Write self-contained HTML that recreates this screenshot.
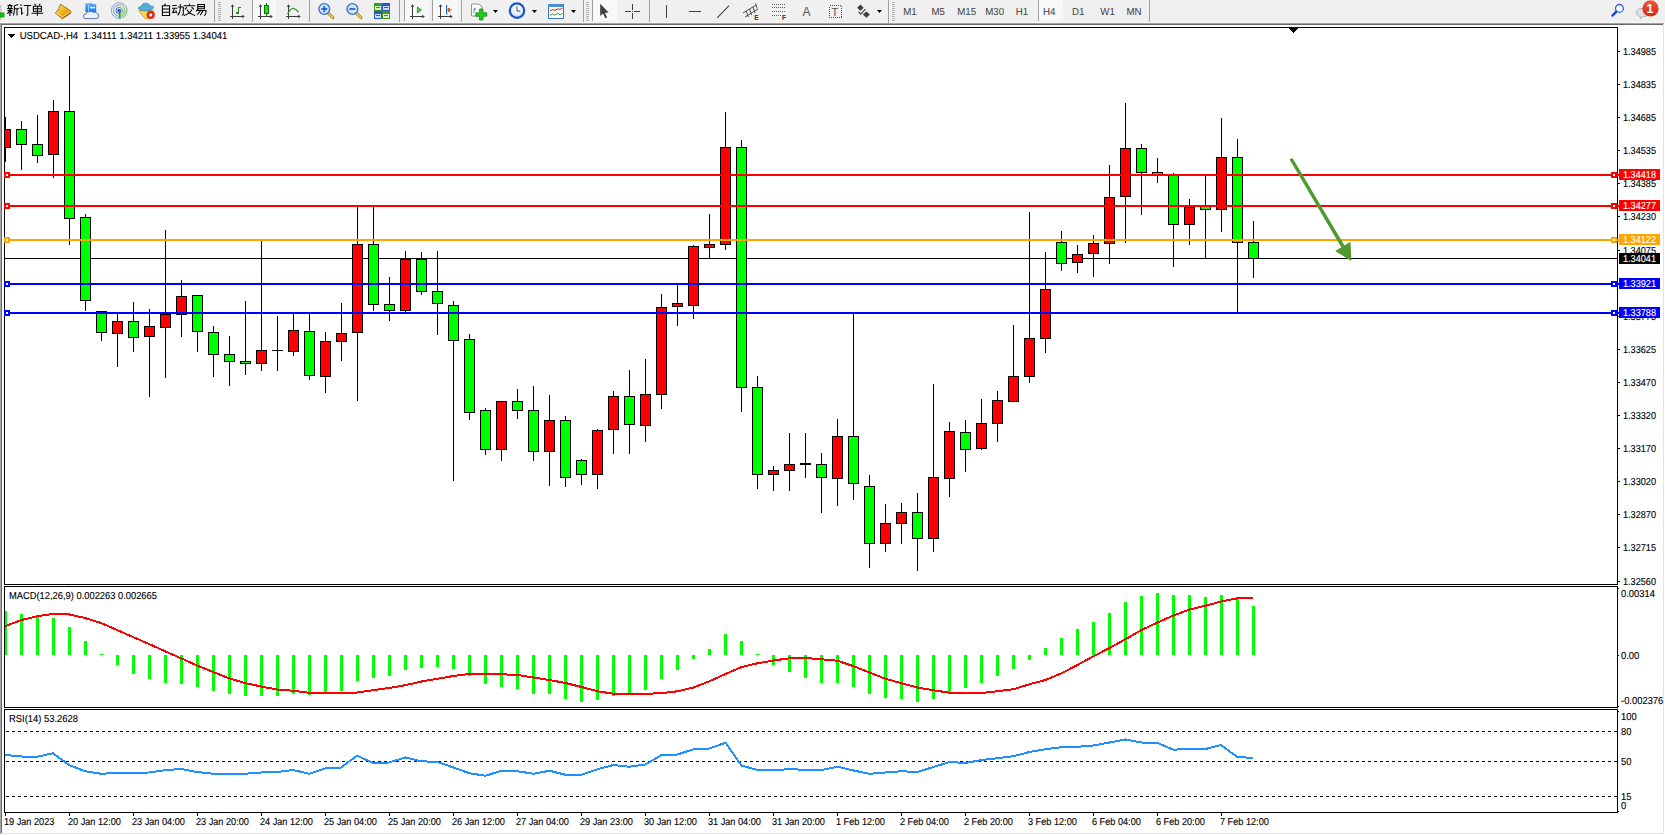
<!DOCTYPE html>
<html><head><meta charset="utf-8"><title>USDCAD-,H4</title>
<style>html,body{margin:0;padding:0;background:#fff;overflow:hidden}svg{display:block;font-family:"Liberation Sans",sans-serif}</style>
</head><body>
<svg width="1665" height="835" viewBox="0 0 1665 835">
<defs><clipPath id="cm"><rect x="5" y="28" width="1612" height="556"/></clipPath><clipPath id="cd"><rect x="5" y="587" width="1612" height="120"/></clipPath><clipPath id="cr"><rect x="5" y="710" width="1612" height="102"/></clipPath></defs>
<g shape-rendering="crispEdges">
<rect x="0" y="0" width="1665" height="835" fill="#fff" />
<rect x="0" y="0" width="1665" height="23" fill="#f0f0f0" />
<rect x="0" y="22" width="1665" height="1" fill="#f8f8f8" />
<rect x="0" y="23" width="1664" height="1" fill="#a0a0a0" />
<rect x="1" y="24" width="1663" height="1" fill="#696969" />
<rect x="0" y="24" width="1" height="810" fill="#a8a8a8" />
<rect x="1" y="24" width="1" height="809" fill="#696969" />
<rect x="1663" y="24" width="1" height="810" fill="#e3e3e3" />
<rect x="1" y="833" width="1663" height="1" fill="#e3e3e3" />
<rect x="4" y="27" width="1614" height="1" fill="#000" />
<rect x="4" y="584" width="1614" height="1" fill="#000" />
<rect x="4" y="27" width="1" height="558" fill="#000" />
<rect x="1617" y="27" width="1" height="558" fill="#000" />
<rect x="4" y="586" width="1614" height="1" fill="#000" />
<rect x="4" y="707" width="1614" height="1" fill="#000" />
<rect x="4" y="586" width="1" height="122" fill="#000" />
<rect x="1617" y="586" width="1" height="122" fill="#000" />
<rect x="4" y="709" width="1614" height="1" fill="#000" />
<rect x="4" y="812" width="1614" height="1" fill="#000" />
<rect x="4" y="709" width="1" height="104" fill="#000" />
<rect x="1617" y="709" width="1" height="104" fill="#000" />
</g>
<g id="toolbar">
<rect x="0" y="5" width="1.5" height="15" fill="#c8c8c8"/>
<rect x="0" y="13" width="4" height="4" fill="#00dc00" stroke="#0a8a0a" stroke-width="0.8"/>
<path transform="translate(7.0,3.8)" d="M2.6,0.2 L3.2,1.3 M0.5,1.8 H5.5 M1.4,2.8 L1.9,4.2 M4.6,2.6 L4,4.2 M0.2,4.8 H5.8 M0.6,6.8 H5.4 M3,4.8 V11.5 L2.2,11 M2.7,7.2 L0.4,10 M3.6,7.8 L5.4,9.6 M11.2,0.6 L7.4,2 V6.5 Q7.4,9.5 6.2,11.6 M7.4,5 H12 M10,5 V11.8" fill="none" stroke="#000" stroke-width="1.05" stroke-linecap="butt"/>
<path transform="translate(19.2,3.8)" d="M1.2,0.6 L2.4,1.8 M0.2,4.2 H2.4 V10.2 L3.8,8.8 M4.6,1.6 H12 M8.6,1.6 V11 Q8.6,11.6 7,11.2" fill="none" stroke="#000" stroke-width="1.05" stroke-linecap="butt"/>
<path transform="translate(31.4,3.8)" d="M3.2,0 L4.2,1.6 M8.8,0 L7.8,1.6 M2,2.4 H10 V7.4 H2 Z M2,4.9 H10 M0.2,9.4 H11.8 M6,2.4 V12" fill="none" stroke="#000" stroke-width="1.05" stroke-linecap="butt"/>
<path transform="translate(160.0,3.8)" d="M5.5,0 L4.5,1.6 M2.4,2 H9.6 V11.6 H2.4 Z M2.4,5.2 H9.6 M2.4,8.4 H9.6" fill="none" stroke="#000" stroke-width="1.05" stroke-linecap="butt"/>
<path transform="translate(171.7,3.8)" d="M0.6,1.6 H5 M0.2,4.4 H5.6 M2.8,4.4 L1,8.8 L5,8.2 M4,6.6 L5.4,9.6 M6.2,3.2 H11.6 V9.8 Q11.6,11.4 10,11.2 M8.6,0.2 V5 Q8.4,9 6,11.6" fill="none" stroke="#000" stroke-width="1.05" stroke-linecap="butt"/>
<path transform="translate(183.4,3.8)" d="M6,0 V1.6 M0.4,2 H11.6 M3.6,3.4 L1.4,5.6 M8.2,3.4 L10.6,5.6 M8.6,5.6 Q6,10 0.4,11.8 M3.4,5.6 Q6,10 11.8,11.8" fill="none" stroke="#000" stroke-width="1.05" stroke-linecap="butt"/>
<path transform="translate(195.1,3.8)" d="M2.6,0.6 H9.4 V5 H2.6 Z M2.6,2.8 H9.4 M3.2,5 L1,7.6 M2.4,6.6 H11 Q11,11 9,11.6 M5.6,6.6 L2.2,11 M8.2,6.6 L5.2,11.4" fill="none" stroke="#000" stroke-width="1.05" stroke-linecap="butt"/>
<defs><linearGradient id="gold" x1="0" y1="0" x2="1" y2="1"><stop offset="0" stop-color="#ffe27a"/><stop offset="0.5" stop-color="#f0b41e"/><stop offset="1" stop-color="#b8740e"/></linearGradient><linearGradient id="blu" x1="0" y1="0" x2="0" y2="1"><stop offset="0" stop-color="#4fb0ff"/><stop offset="1" stop-color="#1478e6"/></linearGradient><radialGradient id="clk" cx="0.5" cy="0.4" r="0.6"><stop offset="0" stop-color="#ffffff"/><stop offset="0.7" stop-color="#dfeaf8"/><stop offset="1" stop-color="#9fb8dc"/></radialGradient><linearGradient id="redb" x1="0" y1="0" x2="0" y2="1"><stop offset="0" stop-color="#f0563a"/><stop offset="1" stop-color="#d42810"/></linearGradient></defs>
<path d="M60.6,4.2 L70.8,11 L70.8,13.2 L62.4,18.8 L55.2,13 Q57.6,11.4 58.8,8.6 Q59.6,6 60.6,4.2 Z" fill="url(#gold)" stroke="#a8690f" stroke-width="0.9"/>
<path d="M55.8,12.6 L62.6,16.8 L70.6,11.2" stroke="#fbe9a0" stroke-width="0.8" fill="none"/>
<path d="M62.5,18.2 L70.6,12.8" stroke="#9a5f0c" stroke-width="0.7" fill="none"/>
<path d="M85.4,3.6 L91,3.2 L96.2,4.6 L96.2,12 L85.4,12 Z" fill="url(#blu)"/>
<path d="M88.6,4.6 L88.6,12" stroke="#c8e6ff" stroke-width="0.8"/>
<rect x="90" y="6.8" width="5" height="1.6" fill="#e8f4ff"/>
<path d="M86,18.6 Q83.2,18.6 83.3,16.2 Q83.4,14 86,14 Q86.6,11.2 89.6,11.6 Q91.4,10.6 93.2,12.4 Q95,11.6 96.6,13 Q99,13.6 98.8,16.2 Q98.6,18.6 96,18.6 Z" fill="#eef2fa" stroke="#4a6aa8" stroke-width="0.9"/>
<g fill="none" stroke-width="1"><path d="M119.2,2.8 A7.8,7.8 0 0 0 119.2,18.4" stroke="#5c82dc" opacity="0.75"/><path d="M119.2,5 A5.6,5.6 0 0 0 119.2,16.2" stroke="#5c82dc" opacity="0.85"/><path d="M119.2,7.4 A3.2,3.2 0 0 0 119.2,13.8" stroke="#3c66d0"/><path d="M119.2,2.8 A7.8,7.8 0 0 1 122,17.9" stroke="#5fa860" opacity="0.85"/><path d="M119.2,5 A5.6,5.6 0 0 1 121.5,15.7" stroke="#6aae6a" opacity="0.85"/><path d="M119.2,7.4 A3.2,3.2 0 0 1 120.8,13.4" stroke="#5fa860"/></g>
<path d="M119.8,11 A7,7 0 0 1 126.6,10.6 A7.6,7.6 0 0 1 120,18.4 Z" fill="#8cc48c" opacity="0.45"/>
<circle cx="119.2" cy="10.6" r="1.9" fill="#2a5ad2"/>
<rect x="119" y="11" width="1.6" height="7.8" fill="#20a828"/>
<path d="M138.6,10.4 L153.4,10.4 L147.6,18.8 L145,18.8 Z" fill="#f6d84a" stroke="#c8981a" stroke-width="0.7"/>
<path d="M138.4,8.6 Q138,6.8 141.4,6.4 Q142,3 146,3.2 Q149.4,3.4 150,6 Q154,5.6 153.6,7.6 Q152,10.6 146,10.8 Q140,10.8 138.4,8.6 Z" fill="#56aee0" stroke="#2c7fb4" stroke-width="0.7"/>
<circle cx="150.7" cy="14.9" r="4.1" fill="#e02c10"/>
<rect x="149.4" y="13.6" width="2.7" height="2.7" fill="#fff"/>
<rect x="214" y="0" width="1" height="22" fill="#a0a0a0" shape-rendering="crispEdges"/>
<rect x="218" y="2" width="3" height="1" fill="#b4b4b4" shape-rendering="crispEdges"/>
<rect x="218" y="4" width="3" height="1" fill="#b4b4b4" shape-rendering="crispEdges"/>
<rect x="218" y="6" width="3" height="1" fill="#b4b4b4" shape-rendering="crispEdges"/>
<rect x="218" y="8" width="3" height="1" fill="#b4b4b4" shape-rendering="crispEdges"/>
<rect x="218" y="10" width="3" height="1" fill="#b4b4b4" shape-rendering="crispEdges"/>
<rect x="218" y="12" width="3" height="1" fill="#b4b4b4" shape-rendering="crispEdges"/>
<rect x="218" y="14" width="3" height="1" fill="#b4b4b4" shape-rendering="crispEdges"/>
<rect x="218" y="16" width="3" height="1" fill="#b4b4b4" shape-rendering="crispEdges"/>
<rect x="218" y="18" width="3" height="1" fill="#b4b4b4" shape-rendering="crispEdges"/>
<rect x="218" y="20" width="3" height="1" fill="#b4b4b4" shape-rendering="crispEdges"/>
<g stroke="#3c3c3c" stroke-width="1" fill="none" shape-rendering="crispEdges"><path d="M232.5,5 V19 M230,16.5 H244"/></g>
<path d="M232.5,4.2 l-1.8,2.6 h3.6 z M244.8,16.5 l-2.6,-1.8 v3.6 z" fill="#3c3c3c"/>
<g stroke="#1e8a1e" stroke-width="1.3" fill="none" shape-rendering="crispEdges"><path d="M238.6,6.5 V14 M238.6,7.5 H241 M236.4,13 H238.6"/></g>
<rect x="252" y="0" width="1" height="22" fill="#a0a0a0" shape-rendering="crispEdges"/>
<rect x="252" y="0" width="24" height="21" fill="#f8f8f8" shape-rendering="crispEdges"/>
<rect x="252" y="0" width="1" height="21" fill="#a0a0a0" shape-rendering="crispEdges"/>
<g stroke="#3c3c3c" stroke-width="1" fill="none" shape-rendering="crispEdges"><path d="M260.5,5 V19 M258,16.5 H272"/></g>
<path d="M260.5,4.2 l-1.8,2.6 h3.6 z M272.8,16.5 l-2.6,-1.8 v3.6 z" fill="#3c3c3c"/>
<g shape-rendering="crispEdges"><rect x="266" y="3" width="1" height="13" fill="#0a7a0a"/><rect x="264" y="5" width="5" height="9" fill="#0a7a0a"/><rect x="265" y="6" width="3" height="7" fill="#22dd22"/></g>
<g stroke="#3c3c3c" stroke-width="1" fill="none" shape-rendering="crispEdges"><path d="M288.5,5 V19 M286,16.5 H300"/></g>
<path d="M288.5,4.2 l-1.8,2.6 h3.6 z M300.8,16.5 l-2.6,-1.8 v3.6 z" fill="#3c3c3c"/>
<path d="M287.5,14 Q291,7.6 293.6,8.4 Q296,9.4 298.6,12" stroke="#2a9a2a" stroke-width="1.2" fill="none"/>
<rect x="309" y="0" width="1" height="22" fill="#a0a0a0" shape-rendering="crispEdges"/>
<path d="M327.90000000000003,12.6 L332.90000000000003,17.6" stroke="#b8860b" stroke-width="3" stroke-linecap="round"/>
<path d="M328.1,12.8 L332.7,17.4" stroke="#f0d060" stroke-width="1.4" stroke-linecap="round"/>
<circle cx="324.3" cy="9" r="5.4" fill="#cfe6fa" stroke="#3a70d8" stroke-width="1.4"/>
<path d="M321.3,9 h6" stroke="#2a60c8" stroke-width="1.8"/>
<path d="M324.3,6 v6" stroke="#2a60c8" stroke-width="1.8"/>
<path d="M356.0,12.6 L361.0,17.6" stroke="#b8860b" stroke-width="3" stroke-linecap="round"/>
<path d="M356.2,12.8 L360.79999999999995,17.4" stroke="#f0d060" stroke-width="1.4" stroke-linecap="round"/>
<circle cx="352.4" cy="9" r="5.4" fill="#cfe6fa" stroke="#3a70d8" stroke-width="1.4"/>
<path d="M349.4,9 h6" stroke="#2a60c8" stroke-width="1.8"/>
<g shape-rendering="crispEdges"><rect x="374" y="3" width="8" height="8" fill="#3c9a1c"/><rect x="382" y="3" width="8" height="8" fill="#2858c8"/><rect x="374" y="11" width="8" height="8" fill="#2858c8"/><rect x="382" y="11" width="8" height="8" fill="#3c9a1c"/><rect x="375" y="6" width="6" height="4" fill="#d8f0c8"/><rect x="383" y="6" width="6" height="4" fill="#d0dcf8"/><rect x="375" y="14" width="6" height="4" fill="#d0dcf8"/><rect x="383" y="14" width="6" height="4" fill="#d8f0c8"/><rect x="376" y="7" width="4" height="1" fill="#3c9a1c"/><rect x="384" y="7" width="4" height="1" fill="#2858c8"/><rect x="376" y="15" width="4" height="1" fill="#2858c8"/><rect x="384" y="15" width="4" height="1" fill="#3c9a1c"/></g>
<rect x="399" y="0" width="1" height="22" fill="#a0a0a0" shape-rendering="crispEdges"/>
<rect x="404" y="0" width="25" height="21" fill="#f8f8f8" shape-rendering="crispEdges"/>
<rect x="404" y="0" width="1" height="21" fill="#a0a0a0" shape-rendering="crispEdges"/>
<g stroke="#3c3c3c" stroke-width="1" fill="none" shape-rendering="crispEdges"><path d="M412.5,5 V19 M410,16.5 H424"/></g>
<path d="M412.5,4.2 l-1.8,2.6 h3.6 z M424.8,16.5 l-2.6,-1.8 v3.6 z" fill="#3c3c3c"/>
<path d="M417.4,7 L421.4,10 L417.4,13 Z" fill="#4cd04c" stroke="#1e8a1e" stroke-width="0.8"/>
<rect x="432" y="0" width="25" height="21" fill="#f8f8f8" shape-rendering="crispEdges"/>
<rect x="432" y="0" width="1" height="21" fill="#a0a0a0" shape-rendering="crispEdges"/>
<g stroke="#3c3c3c" stroke-width="1" fill="none" shape-rendering="crispEdges"><path d="M440.5,5 V19 M438,16.5 H452"/></g>
<path d="M440.5,4.2 l-1.8,2.6 h3.6 z M452.8,16.5 l-2.6,-1.8 v3.6 z" fill="#3c3c3c"/>
<rect x="446" y="5" width="1.2" height="9.5" fill="#2868c0"/>
<path d="M447.6,10 L451.8,10 M447.6,10 l2.2,-2 M447.6,10 l2.2,2" stroke="#d04010" stroke-width="1.1" fill="none"/>
<rect x="461" y="0" width="1" height="22" fill="#a0a0a0" shape-rendering="crispEdges"/>
<path d="M471.5,4 H479 L482,7 V16 H471.5 Z" fill="#fafafa" stroke="#8a8a8a" stroke-width="0.9"/>
<text x="473" y="12.6" font-size="7.5" fill="#555" font-style="italic">f</text>
<path d="M479.6,9 h3.4 v3.8 h3.8 v3.4 h-3.8 v3.8 h-3.4 v-3.8 h-3.8 v-3.4 h3.8 z" fill="#22c822" stroke="#0f8a0f" stroke-width="0.8"/>
<path d="M493,10 h5 l-2.5,3 z" fill="#000"/>
<circle cx="517" cy="10.6" r="7.2" fill="url(#clk)" stroke="#1a56cc" stroke-width="2.2"/>
<path d="M517,6.4 V11 H520.4" stroke="#445" stroke-width="1" fill="none"/>
<path d="M532,10 h5 l-2.5,3 z" fill="#000"/>
<g shape-rendering="crispEdges"><rect x="548" y="4" width="15" height="14" fill="#fdfdfd" stroke="#3a76cc" stroke-width="1"/><rect x="548" y="4" width="15" height="3" fill="#4a8ee0"/></g>
<path d="M550,10.6 L553,9.6 L555,10.2 L558,8.8 L560,9.4 L562.4,8.2" stroke="#c03018" stroke-width="1" fill="none"/>
<path d="M550,15.4 L552.6,14 L554.6,15.2 L557.6,13.2 L560,14.6 L562.4,13.4" stroke="#2a9a2a" stroke-width="1" fill="none"/>
<path d="M571,10 h5 l-2.5,3 z" fill="#000"/>
<rect x="583" y="0" width="1" height="22" fill="#a0a0a0" shape-rendering="crispEdges"/>
<rect x="586" y="2" width="3" height="1" fill="#b4b4b4" shape-rendering="crispEdges"/>
<rect x="586" y="4" width="3" height="1" fill="#b4b4b4" shape-rendering="crispEdges"/>
<rect x="586" y="6" width="3" height="1" fill="#b4b4b4" shape-rendering="crispEdges"/>
<rect x="586" y="8" width="3" height="1" fill="#b4b4b4" shape-rendering="crispEdges"/>
<rect x="586" y="10" width="3" height="1" fill="#b4b4b4" shape-rendering="crispEdges"/>
<rect x="586" y="12" width="3" height="1" fill="#b4b4b4" shape-rendering="crispEdges"/>
<rect x="586" y="14" width="3" height="1" fill="#b4b4b4" shape-rendering="crispEdges"/>
<rect x="586" y="16" width="3" height="1" fill="#b4b4b4" shape-rendering="crispEdges"/>
<rect x="586" y="18" width="3" height="1" fill="#b4b4b4" shape-rendering="crispEdges"/>
<rect x="586" y="20" width="3" height="1" fill="#b4b4b4" shape-rendering="crispEdges"/>
<rect x="592" y="0" width="25" height="21" fill="#f8f8f8" shape-rendering="crispEdges"/>
<rect x="592" y="0" width="1" height="21" fill="#a0a0a0" shape-rendering="crispEdges"/>
<path d="M600.2,3.8 V16 L603,13.4 L605.4,18.2 L607.2,17.4 L604.9,12.7 L608.6,12.4 Z" fill="#404040"/>
<g shape-rendering="crispEdges" fill="#404040"><rect x="625" y="11" width="6" height="1"/><rect x="634" y="11" width="6" height="1"/><rect x="632" y="4" width="1" height="6"/><rect x="632" y="13" width="1" height="6"/><rect x="632" y="11" width="1" height="1"/></g>
<rect x="649" y="0" width="1" height="22" fill="#a0a0a0" shape-rendering="crispEdges"/>
<g shape-rendering="crispEdges" fill="#404040"><rect x="666" y="5" width="1" height="13"/><rect x="689" y="11" width="12" height="1"/></g>
<path d="M717.2,17.8 L729,5.6" stroke="#404040" stroke-width="1.1"/>
<g stroke="#404040" stroke-width="0.9" fill="none"><path d="M743,13 L756,5 M745,17 L758,9 M746.2,11 l2,6 M749.6,9 l2,6 M753,7 l2,6 M755.6,3.4 l1.6,5"/></g>
<text x="754.2" y="19.8" font-size="6.5" font-weight="bold" fill="#303030">E</text>
<g shape-rendering="crispEdges" fill="#606060"><rect x="772" y="4" width="1" height="1"/><rect x="774" y="4" width="1" height="1"/><rect x="776" y="4" width="1" height="1"/><rect x="778" y="4" width="1" height="1"/><rect x="780" y="4" width="1" height="1"/><rect x="782" y="4" width="1" height="1"/><rect x="784" y="4" width="1" height="1"/><rect x="772" y="7" width="1" height="1"/><rect x="774" y="7" width="1" height="1"/><rect x="776" y="7" width="1" height="1"/><rect x="778" y="7" width="1" height="1"/><rect x="780" y="7" width="1" height="1"/><rect x="782" y="7" width="1" height="1"/><rect x="784" y="7" width="1" height="1"/><rect x="772" y="11" width="1" height="1"/><rect x="774" y="11" width="1" height="1"/><rect x="776" y="11" width="1" height="1"/><rect x="778" y="11" width="1" height="1"/><rect x="780" y="11" width="1" height="1"/><rect x="782" y="11" width="1" height="1"/><rect x="784" y="11" width="1" height="1"/><rect x="772" y="15" width="1" height="1"/><rect x="774" y="15" width="1" height="1"/><rect x="776" y="15" width="1" height="1"/><rect x="778" y="15" width="1" height="1"/><rect x="780" y="15" width="1" height="1"/></g>
<text x="782" y="19.8" font-size="6.5" font-weight="bold" fill="#303030">F</text>
<text x="802.4" y="16" font-size="12" fill="#505050">A</text>
<rect x="829.5" y="5.5" width="12" height="12" fill="none" stroke="#505050" stroke-width="1" stroke-dasharray="1,1" shape-rendering="crispEdges"/>
<text x="831.6" y="15.6" font-size="11" fill="#505050">T</text>
<path d="M860.4,4.6 l3.2,3.2 l-3.2,3.2 l-3.2,-3.2 z M866.4,11.4 l3.6,3.2 l-3.6,3.2 l-3.6,-3.2 z" fill="#404040"/>
<path d="M858.6,11.8 l2.2,2.4 l4.6,-5" stroke="#404040" stroke-width="1.2" fill="none"/>
<path d="M877,10 h5 l-2.5,3 z" fill="#000"/>
<rect x="888" y="0" width="1" height="24" fill="#a0a0a0" shape-rendering="crispEdges"/>
<rect x="892" y="2" width="3" height="1" fill="#b4b4b4" shape-rendering="crispEdges"/>
<rect x="892" y="4" width="3" height="1" fill="#b4b4b4" shape-rendering="crispEdges"/>
<rect x="892" y="6" width="3" height="1" fill="#b4b4b4" shape-rendering="crispEdges"/>
<rect x="892" y="8" width="3" height="1" fill="#b4b4b4" shape-rendering="crispEdges"/>
<rect x="892" y="10" width="3" height="1" fill="#b4b4b4" shape-rendering="crispEdges"/>
<rect x="892" y="12" width="3" height="1" fill="#b4b4b4" shape-rendering="crispEdges"/>
<rect x="892" y="14" width="3" height="1" fill="#b4b4b4" shape-rendering="crispEdges"/>
<rect x="892" y="16" width="3" height="1" fill="#b4b4b4" shape-rendering="crispEdges"/>
<rect x="892" y="18" width="3" height="1" fill="#b4b4b4" shape-rendering="crispEdges"/>
<rect x="892" y="20" width="3" height="1" fill="#b4b4b4" shape-rendering="crispEdges"/>
<rect x="1038" y="0" width="25" height="21" fill="#f8f8f8" shape-rendering="crispEdges"/>
<rect x="1038" y="0" width="1" height="21" fill="#a0a0a0" shape-rendering="crispEdges"/>
<text transform="translate(903.2,14.9) scale(0.955,1)" font-size="10.2" fill="#404040" text-rendering="geometricPrecision">M1</text>
<text transform="translate(931.4,14.9) scale(0.955,1)" font-size="10.2" fill="#404040" text-rendering="geometricPrecision">M5</text>
<text transform="translate(957.2,14.9) scale(0.955,1)" font-size="10.2" fill="#404040" text-rendering="geometricPrecision">M15</text>
<text transform="translate(985.2,14.9) scale(0.955,1)" font-size="10.2" fill="#404040" text-rendering="geometricPrecision">M30</text>
<text transform="translate(1015.8,14.9) scale(0.955,1)" font-size="10.2" fill="#404040" text-rendering="geometricPrecision">H1</text>
<text transform="translate(1043,14.9) scale(0.955,1)" font-size="10.2" fill="#404040" text-rendering="geometricPrecision">H4</text>
<text transform="translate(1072,14.9) scale(0.955,1)" font-size="10.2" fill="#404040" text-rendering="geometricPrecision">D1</text>
<text transform="translate(1100.2,14.9) scale(0.955,1)" font-size="10.2" fill="#404040" text-rendering="geometricPrecision">W1</text>
<text transform="translate(1126.4,14.9) scale(0.955,1)" font-size="10.2" fill="#404040" text-rendering="geometricPrecision">MN</text>
<rect x="1149" y="0" width="1" height="22" fill="#a0a0a0" shape-rendering="crispEdges"/>
<circle cx="1619.4" cy="8.4" r="3.9" fill="#f8fbff" stroke="#2c62dc" stroke-width="1.3"/>
<path d="M1616.4,11.6 L1612.4,15.6" stroke="#1c44c0" stroke-width="2.2" stroke-linecap="round"/>
<path d="M1642.4,8.4 Q1648.6,8.4 1648.6,12.8 Q1648.6,16.8 1643,16.8 L1640.2,18.8 L1640.6,16.6 Q1636.4,16 1636.4,12.6 Q1636.6,8.4 1642.4,8.4 Z" fill="#dcdfe6" stroke="#a8acb4" stroke-width="0.8"/>
<circle cx="1650.5" cy="8.4" r="8.1" fill="url(#redb)"/>
<text x="1646.4" y="13" font-size="12.5" font-weight="bold" fill="#fff">1</text>
</g>
<g shape-rendering="crispEdges" clip-path="url(#cm)">
<rect x="5" y="258" width="1612" height="1" fill="#000" />
<rect x="5" y="117" width="1" height="45" fill="#000" />
<rect x="0" y="129" width="11" height="19" fill="#000" />
<rect x="1" y="130" width="9" height="17" fill="#ff0000" />
<rect x="21" y="121" width="1" height="49" fill="#000" />
<rect x="16" y="129" width="11" height="16" fill="#000" />
<rect x="17" y="130" width="9" height="14" fill="#00ff00" />
<rect x="37" y="115" width="1" height="48" fill="#000" />
<rect x="32" y="144" width="11" height="12" fill="#000" />
<rect x="33" y="145" width="9" height="10" fill="#00ff00" />
<rect x="53" y="100" width="1" height="78" fill="#000" />
<rect x="48" y="111" width="11" height="44" fill="#000" />
<rect x="49" y="112" width="9" height="42" fill="#ff0000" />
<rect x="69" y="56" width="1" height="189" fill="#000" />
<rect x="64" y="111" width="11" height="108" fill="#000" />
<rect x="65" y="112" width="9" height="106" fill="#00ff00" />
<rect x="85" y="214" width="1" height="97" fill="#000" />
<rect x="80" y="217" width="11" height="84" fill="#000" />
<rect x="81" y="218" width="9" height="82" fill="#00ff00" />
<rect x="101" y="311" width="1" height="30" fill="#000" />
<rect x="96" y="311" width="11" height="22" fill="#000" />
<rect x="97" y="312" width="9" height="20" fill="#00ff00" />
<rect x="117" y="314" width="1" height="53" fill="#000" />
<rect x="112" y="321" width="11" height="13" fill="#000" />
<rect x="113" y="322" width="9" height="11" fill="#ff0000" />
<rect x="133" y="302" width="1" height="50" fill="#000" />
<rect x="128" y="321" width="11" height="17" fill="#000" />
<rect x="129" y="322" width="9" height="15" fill="#00ff00" />
<rect x="149" y="309" width="1" height="88" fill="#000" />
<rect x="144" y="326" width="11" height="11" fill="#000" />
<rect x="145" y="327" width="9" height="9" fill="#ff0000" />
<rect x="165" y="230" width="1" height="148" fill="#000" />
<rect x="160" y="314" width="11" height="14" fill="#000" />
<rect x="161" y="315" width="9" height="12" fill="#ff0000" />
<rect x="181" y="280" width="1" height="57" fill="#000" />
<rect x="176" y="296" width="11" height="19" fill="#000" />
<rect x="177" y="297" width="9" height="17" fill="#ff0000" />
<rect x="197" y="295" width="1" height="57" fill="#000" />
<rect x="192" y="295" width="11" height="37" fill="#000" />
<rect x="193" y="296" width="9" height="35" fill="#00ff00" />
<rect x="213" y="326" width="1" height="51" fill="#000" />
<rect x="208" y="332" width="11" height="23" fill="#000" />
<rect x="209" y="333" width="9" height="21" fill="#00ff00" />
<rect x="229" y="336" width="1" height="50" fill="#000" />
<rect x="224" y="354" width="11" height="8" fill="#000" />
<rect x="225" y="355" width="9" height="6" fill="#00ff00" />
<rect x="245" y="301" width="1" height="74" fill="#000" />
<rect x="240" y="361" width="11" height="3" fill="#000" />
<rect x="241" y="362" width="9" height="1" fill="#00ff00" />
<rect x="261" y="241" width="1" height="130" fill="#000" />
<rect x="256" y="350" width="11" height="14" fill="#000" />
<rect x="257" y="351" width="9" height="12" fill="#ff0000" />
<rect x="277" y="316" width="1" height="55" fill="#000" />
<rect x="272" y="350" width="11" height="1" fill="#000" />
<rect x="293" y="314" width="1" height="42" fill="#000" />
<rect x="288" y="330" width="11" height="22" fill="#000" />
<rect x="289" y="331" width="9" height="20" fill="#ff0000" />
<rect x="309" y="314" width="1" height="66" fill="#000" />
<rect x="304" y="331" width="11" height="45" fill="#000" />
<rect x="305" y="332" width="9" height="43" fill="#00ff00" />
<rect x="325" y="332" width="1" height="61" fill="#000" />
<rect x="320" y="341" width="11" height="36" fill="#000" />
<rect x="321" y="342" width="9" height="34" fill="#ff0000" />
<rect x="341" y="303" width="1" height="58" fill="#000" />
<rect x="336" y="333" width="11" height="9" fill="#000" />
<rect x="337" y="334" width="9" height="7" fill="#ff0000" />
<rect x="357" y="206" width="1" height="195" fill="#000" />
<rect x="352" y="244" width="11" height="89" fill="#000" />
<rect x="353" y="245" width="9" height="87" fill="#ff0000" />
<rect x="373" y="206" width="1" height="105" fill="#000" />
<rect x="368" y="244" width="11" height="61" fill="#000" />
<rect x="369" y="245" width="9" height="59" fill="#00ff00" />
<rect x="389" y="277" width="1" height="44" fill="#000" />
<rect x="384" y="304" width="11" height="7" fill="#000" />
<rect x="385" y="305" width="9" height="5" fill="#00ff00" />
<rect x="405" y="251" width="1" height="61" fill="#000" />
<rect x="400" y="259" width="11" height="52" fill="#000" />
<rect x="401" y="260" width="9" height="50" fill="#ff0000" />
<rect x="421" y="252" width="1" height="43" fill="#000" />
<rect x="416" y="259" width="11" height="33" fill="#000" />
<rect x="417" y="260" width="9" height="31" fill="#00ff00" />
<rect x="437" y="251" width="1" height="84" fill="#000" />
<rect x="432" y="291" width="11" height="13" fill="#000" />
<rect x="433" y="292" width="9" height="11" fill="#00ff00" />
<rect x="453" y="301" width="1" height="180" fill="#000" />
<rect x="448" y="305" width="11" height="36" fill="#000" />
<rect x="449" y="306" width="9" height="34" fill="#00ff00" />
<rect x="469" y="334" width="1" height="86" fill="#000" />
<rect x="464" y="339" width="11" height="74" fill="#000" />
<rect x="465" y="340" width="9" height="72" fill="#00ff00" />
<rect x="485" y="408" width="1" height="47" fill="#000" />
<rect x="480" y="410" width="11" height="40" fill="#000" />
<rect x="481" y="411" width="9" height="38" fill="#00ff00" />
<rect x="501" y="401" width="1" height="60" fill="#000" />
<rect x="496" y="401" width="11" height="49" fill="#000" />
<rect x="497" y="402" width="9" height="47" fill="#ff0000" />
<rect x="517" y="389" width="1" height="30" fill="#000" />
<rect x="512" y="401" width="11" height="10" fill="#000" />
<rect x="513" y="402" width="9" height="8" fill="#00ff00" />
<rect x="533" y="386" width="1" height="75" fill="#000" />
<rect x="528" y="410" width="11" height="42" fill="#000" />
<rect x="529" y="411" width="9" height="40" fill="#00ff00" />
<rect x="549" y="395" width="1" height="91" fill="#000" />
<rect x="544" y="420" width="11" height="32" fill="#000" />
<rect x="545" y="421" width="9" height="30" fill="#ff0000" />
<rect x="565" y="416" width="1" height="71" fill="#000" />
<rect x="560" y="420" width="11" height="58" fill="#000" />
<rect x="561" y="421" width="9" height="56" fill="#00ff00" />
<rect x="581" y="459" width="1" height="26" fill="#000" />
<rect x="576" y="460" width="11" height="15" fill="#000" />
<rect x="577" y="461" width="9" height="13" fill="#00ff00" />
<rect x="597" y="429" width="1" height="60" fill="#000" />
<rect x="592" y="430" width="11" height="45" fill="#000" />
<rect x="593" y="431" width="9" height="43" fill="#ff0000" />
<rect x="613" y="391" width="1" height="63" fill="#000" />
<rect x="608" y="396" width="11" height="34" fill="#000" />
<rect x="609" y="397" width="9" height="32" fill="#ff0000" />
<rect x="629" y="370" width="1" height="84" fill="#000" />
<rect x="624" y="396" width="11" height="29" fill="#000" />
<rect x="625" y="397" width="9" height="27" fill="#00ff00" />
<rect x="645" y="359" width="1" height="83" fill="#000" />
<rect x="640" y="394" width="11" height="32" fill="#000" />
<rect x="641" y="395" width="9" height="30" fill="#ff0000" />
<rect x="661" y="294" width="1" height="115" fill="#000" />
<rect x="656" y="307" width="11" height="88" fill="#000" />
<rect x="657" y="308" width="9" height="86" fill="#ff0000" />
<rect x="677" y="285" width="1" height="41" fill="#000" />
<rect x="672" y="303" width="11" height="4" fill="#000" />
<rect x="673" y="304" width="9" height="2" fill="#ff0000" />
<rect x="693" y="245" width="1" height="74" fill="#000" />
<rect x="688" y="246" width="11" height="60" fill="#000" />
<rect x="689" y="247" width="9" height="58" fill="#ff0000" />
<rect x="709" y="214" width="1" height="44" fill="#000" />
<rect x="704" y="244" width="11" height="4" fill="#000" />
<rect x="705" y="245" width="9" height="2" fill="#ff0000" />
<rect x="725" y="112" width="1" height="138" fill="#000" />
<rect x="720" y="147" width="11" height="98" fill="#000" />
<rect x="721" y="148" width="9" height="96" fill="#ff0000" />
<rect x="741" y="140" width="1" height="272" fill="#000" />
<rect x="736" y="147" width="11" height="241" fill="#000" />
<rect x="737" y="148" width="9" height="239" fill="#00ff00" />
<rect x="757" y="376" width="1" height="113" fill="#000" />
<rect x="752" y="387" width="11" height="88" fill="#000" />
<rect x="753" y="388" width="9" height="86" fill="#00ff00" />
<rect x="773" y="466" width="1" height="25" fill="#000" />
<rect x="768" y="470" width="11" height="5" fill="#000" />
<rect x="769" y="471" width="9" height="3" fill="#ff0000" />
<rect x="789" y="433" width="1" height="58" fill="#000" />
<rect x="784" y="464" width="11" height="7" fill="#000" />
<rect x="785" y="465" width="9" height="5" fill="#ff0000" />
<rect x="805" y="433" width="1" height="45" fill="#000" />
<rect x="800" y="463" width="11" height="2" fill="#000" />
<rect x="821" y="453" width="1" height="60" fill="#000" />
<rect x="816" y="464" width="11" height="14" fill="#000" />
<rect x="817" y="465" width="9" height="12" fill="#00ff00" />
<rect x="837" y="419" width="1" height="87" fill="#000" />
<rect x="832" y="436" width="11" height="43" fill="#000" />
<rect x="833" y="437" width="9" height="41" fill="#ff0000" />
<rect x="853" y="313" width="1" height="187" fill="#000" />
<rect x="848" y="436" width="11" height="48" fill="#000" />
<rect x="849" y="437" width="9" height="46" fill="#00ff00" />
<rect x="869" y="475" width="1" height="93" fill="#000" />
<rect x="864" y="486" width="11" height="58" fill="#000" />
<rect x="865" y="487" width="9" height="56" fill="#00ff00" />
<rect x="885" y="504" width="1" height="48" fill="#000" />
<rect x="880" y="523" width="11" height="21" fill="#000" />
<rect x="881" y="524" width="9" height="19" fill="#ff0000" />
<rect x="901" y="503" width="1" height="41" fill="#000" />
<rect x="896" y="512" width="11" height="12" fill="#000" />
<rect x="897" y="513" width="9" height="10" fill="#ff0000" />
<rect x="917" y="493" width="1" height="78" fill="#000" />
<rect x="912" y="512" width="11" height="27" fill="#000" />
<rect x="913" y="513" width="9" height="25" fill="#00ff00" />
<rect x="933" y="384" width="1" height="168" fill="#000" />
<rect x="928" y="477" width="11" height="62" fill="#000" />
<rect x="929" y="478" width="9" height="60" fill="#ff0000" />
<rect x="949" y="422" width="1" height="75" fill="#000" />
<rect x="944" y="431" width="11" height="48" fill="#000" />
<rect x="945" y="432" width="9" height="46" fill="#ff0000" />
<rect x="965" y="420" width="1" height="52" fill="#000" />
<rect x="960" y="432" width="11" height="18" fill="#000" />
<rect x="961" y="433" width="9" height="16" fill="#00ff00" />
<rect x="981" y="399" width="1" height="51" fill="#000" />
<rect x="976" y="423" width="11" height="26" fill="#000" />
<rect x="977" y="424" width="9" height="24" fill="#ff0000" />
<rect x="997" y="391" width="1" height="51" fill="#000" />
<rect x="992" y="400" width="11" height="24" fill="#000" />
<rect x="993" y="401" width="9" height="22" fill="#ff0000" />
<rect x="1013" y="325" width="1" height="77" fill="#000" />
<rect x="1008" y="376" width="11" height="26" fill="#000" />
<rect x="1009" y="377" width="9" height="24" fill="#ff0000" />
<rect x="1029" y="212" width="1" height="171" fill="#000" />
<rect x="1024" y="338" width="11" height="39" fill="#000" />
<rect x="1025" y="339" width="9" height="37" fill="#ff0000" />
<rect x="1045" y="252" width="1" height="101" fill="#000" />
<rect x="1040" y="289" width="11" height="50" fill="#000" />
<rect x="1041" y="290" width="9" height="48" fill="#ff0000" />
<rect x="1061" y="231" width="1" height="40" fill="#000" />
<rect x="1056" y="242" width="11" height="22" fill="#000" />
<rect x="1057" y="243" width="9" height="20" fill="#00ff00" />
<rect x="1077" y="245" width="1" height="28" fill="#000" />
<rect x="1072" y="254" width="11" height="9" fill="#000" />
<rect x="1073" y="255" width="9" height="7" fill="#ff0000" />
<rect x="1093" y="235" width="1" height="42" fill="#000" />
<rect x="1088" y="243" width="11" height="11" fill="#000" />
<rect x="1089" y="244" width="9" height="9" fill="#ff0000" />
<rect x="1109" y="165" width="1" height="99" fill="#000" />
<rect x="1104" y="197" width="11" height="47" fill="#000" />
<rect x="1105" y="198" width="9" height="45" fill="#ff0000" />
<rect x="1125" y="103" width="1" height="140" fill="#000" />
<rect x="1120" y="148" width="11" height="49" fill="#000" />
<rect x="1121" y="149" width="9" height="47" fill="#ff0000" />
<rect x="1141" y="144" width="1" height="71" fill="#000" />
<rect x="1136" y="148" width="11" height="25" fill="#000" />
<rect x="1137" y="149" width="9" height="23" fill="#00ff00" />
<rect x="1157" y="158" width="1" height="25" fill="#000" />
<rect x="1152" y="172" width="11" height="3" fill="#000" />
<rect x="1153" y="173" width="9" height="1" fill="#00ff00" />
<rect x="1173" y="173" width="1" height="94" fill="#000" />
<rect x="1168" y="174" width="11" height="51" fill="#000" />
<rect x="1169" y="175" width="9" height="49" fill="#00ff00" />
<rect x="1189" y="199" width="1" height="46" fill="#000" />
<rect x="1184" y="207" width="11" height="18" fill="#000" />
<rect x="1185" y="208" width="9" height="16" fill="#ff0000" />
<rect x="1205" y="176" width="1" height="83" fill="#000" />
<rect x="1200" y="205" width="11" height="5" fill="#000" />
<rect x="1201" y="206" width="9" height="3" fill="#00ff00" />
<rect x="1221" y="118" width="1" height="114" fill="#000" />
<rect x="1216" y="157" width="11" height="53" fill="#000" />
<rect x="1217" y="158" width="9" height="51" fill="#ff0000" />
<rect x="1237" y="139" width="1" height="174" fill="#000" />
<rect x="1232" y="157" width="11" height="86" fill="#000" />
<rect x="1233" y="158" width="9" height="84" fill="#00ff00" />
<rect x="1253" y="221" width="1" height="57" fill="#000" />
<rect x="1248" y="242" width="11" height="17" fill="#000" />
<rect x="1249" y="243" width="9" height="15" fill="#00ff00" />
</g><g shape-rendering="crispEdges">
<rect x="5" y="174" width="1614" height="2" fill="#ff0000" />
<rect x="4" y="172" width="6" height="6" fill="#ff0000" />
<rect x="6" y="174" width="2" height="2" fill="#fff" />
<rect x="1611" y="172" width="6" height="6" fill="#ff0000" />
<rect x="1613" y="174" width="2" height="2" fill="#fff" />
<rect x="5" y="205" width="1614" height="2" fill="#ff0000" />
<rect x="4" y="203" width="6" height="6" fill="#ff0000" />
<rect x="6" y="205" width="2" height="2" fill="#fff" />
<rect x="1611" y="203" width="6" height="6" fill="#ff0000" />
<rect x="1613" y="205" width="2" height="2" fill="#fff" />
<rect x="5" y="239" width="1614" height="2" fill="#ffa500" />
<rect x="4" y="237" width="6" height="6" fill="#ffa500" />
<rect x="6" y="239" width="2" height="2" fill="#fff" />
<rect x="1611" y="237" width="6" height="6" fill="#ffa500" />
<rect x="1613" y="239" width="2" height="2" fill="#fff" />
<rect x="5" y="283" width="1614" height="2" fill="#0000ff" />
<rect x="4" y="281" width="6" height="6" fill="#0000ff" />
<rect x="6" y="283" width="2" height="2" fill="#fff" />
<rect x="1611" y="281" width="6" height="6" fill="#0000ff" />
<rect x="1613" y="283" width="2" height="2" fill="#fff" />
<rect x="5" y="312" width="1614" height="2" fill="#0000ff" />
<rect x="4" y="310" width="6" height="6" fill="#0000ff" />
<rect x="6" y="312" width="2" height="2" fill="#fff" />
<rect x="1611" y="310" width="6" height="6" fill="#0000ff" />
<rect x="1613" y="312" width="2" height="2" fill="#fff" />
</g>
<g fill="#4f9a2f" stroke="none"><path d="M1289.6,159.5 L1292.5,157.9 L1344.5,245.6 L1341.4,247.4 Z"/><path d="M1351.3,261 L1335.1,250.9 L1350.5,241.8 Z"/></g>
<g shape-rendering="crispEdges">
<rect x="1618" y="51" width="2" height="1" fill="#000" />
<rect x="1618" y="84" width="2" height="1" fill="#000" />
<rect x="1618" y="117" width="2" height="1" fill="#000" />
<rect x="1618" y="150" width="2" height="1" fill="#000" />
<rect x="1618" y="183" width="2" height="1" fill="#000" />
<rect x="1618" y="216" width="2" height="1" fill="#000" />
<rect x="1618" y="250" width="2" height="1" fill="#000" />
<rect x="1618" y="283" width="2" height="1" fill="#000" />
<rect x="1618" y="316" width="2" height="1" fill="#000" />
<rect x="1618" y="349" width="2" height="1" fill="#000" />
<rect x="1618" y="382" width="2" height="1" fill="#000" />
<rect x="1618" y="415" width="2" height="1" fill="#000" />
<rect x="1618" y="448" width="2" height="1" fill="#000" />
<rect x="1618" y="481" width="2" height="1" fill="#000" />
<rect x="1618" y="514" width="2" height="1" fill="#000" />
<rect x="1618" y="547" width="2" height="1" fill="#000" />
<rect x="1618" y="581" width="2" height="1" fill="#000" />
</g>
<text transform="translate(1623,55) scale(0.905,1)" font-size="10.1" fill="#000" stroke="#000" stroke-width="0.12" text-rendering="geometricPrecision" xml:space="preserve" >1.34985</text>
<text transform="translate(1623,88) scale(0.905,1)" font-size="10.1" fill="#000" stroke="#000" stroke-width="0.12" text-rendering="geometricPrecision" xml:space="preserve" >1.34835</text>
<text transform="translate(1623,121) scale(0.905,1)" font-size="10.1" fill="#000" stroke="#000" stroke-width="0.12" text-rendering="geometricPrecision" xml:space="preserve" >1.34685</text>
<text transform="translate(1623,154) scale(0.905,1)" font-size="10.1" fill="#000" stroke="#000" stroke-width="0.12" text-rendering="geometricPrecision" xml:space="preserve" >1.34535</text>
<text transform="translate(1623,187) scale(0.905,1)" font-size="10.1" fill="#000" stroke="#000" stroke-width="0.12" text-rendering="geometricPrecision" xml:space="preserve" >1.34385</text>
<text transform="translate(1623,220) scale(0.905,1)" font-size="10.1" fill="#000" stroke="#000" stroke-width="0.12" text-rendering="geometricPrecision" xml:space="preserve" >1.34230</text>
<text transform="translate(1623,254) scale(0.905,1)" font-size="10.1" fill="#000" stroke="#000" stroke-width="0.12" text-rendering="geometricPrecision" xml:space="preserve" >1.34075</text>
<text transform="translate(1623,287) scale(0.905,1)" font-size="10.1" fill="#000" stroke="#000" stroke-width="0.12" text-rendering="geometricPrecision" xml:space="preserve" >1.33925</text>
<text transform="translate(1623,320) scale(0.905,1)" font-size="10.1" fill="#000" stroke="#000" stroke-width="0.12" text-rendering="geometricPrecision" xml:space="preserve" >1.33775</text>
<text transform="translate(1623,353) scale(0.905,1)" font-size="10.1" fill="#000" stroke="#000" stroke-width="0.12" text-rendering="geometricPrecision" xml:space="preserve" >1.33625</text>
<text transform="translate(1623,386) scale(0.905,1)" font-size="10.1" fill="#000" stroke="#000" stroke-width="0.12" text-rendering="geometricPrecision" xml:space="preserve" >1.33470</text>
<text transform="translate(1623,419) scale(0.905,1)" font-size="10.1" fill="#000" stroke="#000" stroke-width="0.12" text-rendering="geometricPrecision" xml:space="preserve" >1.33320</text>
<text transform="translate(1623,452) scale(0.905,1)" font-size="10.1" fill="#000" stroke="#000" stroke-width="0.12" text-rendering="geometricPrecision" xml:space="preserve" >1.33170</text>
<text transform="translate(1623,485) scale(0.905,1)" font-size="10.1" fill="#000" stroke="#000" stroke-width="0.12" text-rendering="geometricPrecision" xml:space="preserve" >1.33020</text>
<text transform="translate(1623,518) scale(0.905,1)" font-size="10.1" fill="#000" stroke="#000" stroke-width="0.12" text-rendering="geometricPrecision" xml:space="preserve" >1.32870</text>
<text transform="translate(1623,551) scale(0.905,1)" font-size="10.1" fill="#000" stroke="#000" stroke-width="0.12" text-rendering="geometricPrecision" xml:space="preserve" >1.32715</text>
<text transform="translate(1623,585) scale(0.905,1)" font-size="10.1" fill="#000" stroke="#000" stroke-width="0.12" text-rendering="geometricPrecision" xml:space="preserve" >1.32560</text>
<g shape-rendering="crispEdges">
<rect x="1619" y="169" width="41" height="11" fill="#ff0000" />
<rect x="1619" y="200" width="41" height="11" fill="#ff0000" />
<rect x="1619" y="234" width="41" height="11" fill="#ffa500" />
<rect x="1619" y="253" width="41" height="11" fill="#000" />
<rect x="1619" y="278" width="41" height="11" fill="#0000ff" />
<rect x="1619" y="307" width="41" height="11" fill="#0000ff" />
</g>
<text transform="translate(1623,178) scale(0.905,1)" font-size="10.1" fill="#fff" stroke="#fff" stroke-width="0.12" text-rendering="geometricPrecision" xml:space="preserve" >1.34418</text>
<text transform="translate(1623,209) scale(0.905,1)" font-size="10.1" fill="#fff" stroke="#fff" stroke-width="0.12" text-rendering="geometricPrecision" xml:space="preserve" >1.34277</text>
<text transform="translate(1623,243) scale(0.905,1)" font-size="10.1" fill="#fff" stroke="#fff" stroke-width="0.12" text-rendering="geometricPrecision" xml:space="preserve" >1.34122</text>
<text transform="translate(1623,262) scale(0.905,1)" font-size="10.1" fill="#fff" stroke="#fff" stroke-width="0.12" text-rendering="geometricPrecision" xml:space="preserve" >1.34041</text>
<text transform="translate(1623,287) scale(0.905,1)" font-size="10.1" fill="#fff" stroke="#fff" stroke-width="0.12" text-rendering="geometricPrecision" xml:space="preserve" >1.33921</text>
<text transform="translate(1623,316) scale(0.905,1)" font-size="10.1" fill="#fff" stroke="#fff" stroke-width="0.12" text-rendering="geometricPrecision" xml:space="preserve" >1.33788</text>
<g shape-rendering="crispEdges">
<rect x="8" y="34" width="7" height="1" fill="#000" />
<rect x="9" y="35" width="5" height="1" fill="#000" />
<rect x="10" y="36" width="3" height="1" fill="#000" />
<rect x="11" y="37" width="1" height="1" fill="#000" />
</g>
<text transform="translate(19.7,39) scale(0.9465,1)" font-size="10.1" fill="#000" stroke="#000" stroke-width="0.12" text-rendering="geometricPrecision" xml:space="preserve" >USDCAD-,H4  1.34111 1.34211 1.33955 1.34041</text>
<g shape-rendering="crispEdges" clip-path="url(#cd)">
<rect x="4" y="611" width="3" height="44" fill="#00ff00" />
<rect x="20" y="614" width="3" height="41" fill="#00ff00" />
<rect x="36" y="617" width="3" height="38" fill="#00ff00" />
<rect x="52" y="618" width="3" height="37" fill="#00ff00" />
<rect x="68" y="627" width="3" height="28" fill="#00ff00" />
<rect x="84" y="641" width="3" height="14" fill="#00ff00" />
<rect x="100" y="654" width="3" height="1" fill="#00ff00" />
<rect x="116" y="655" width="3" height="10" fill="#00ff00" />
<rect x="132" y="655" width="3" height="19" fill="#00ff00" />
<rect x="148" y="655" width="3" height="24" fill="#00ff00" />
<rect x="164" y="655" width="3" height="28" fill="#00ff00" />
<rect x="180" y="655" width="3" height="29" fill="#00ff00" />
<rect x="196" y="655" width="3" height="32" fill="#00ff00" />
<rect x="212" y="655" width="3" height="36" fill="#00ff00" />
<rect x="228" y="655" width="3" height="39" fill="#00ff00" />
<rect x="244" y="655" width="3" height="41" fill="#00ff00" />
<rect x="260" y="655" width="3" height="41" fill="#00ff00" />
<rect x="276" y="655" width="3" height="41" fill="#00ff00" />
<rect x="292" y="655" width="3" height="39" fill="#00ff00" />
<rect x="308" y="655" width="3" height="40" fill="#00ff00" />
<rect x="324" y="655" width="3" height="37" fill="#00ff00" />
<rect x="340" y="655" width="3" height="36" fill="#00ff00" />
<rect x="356" y="655" width="3" height="26" fill="#00ff00" />
<rect x="372" y="655" width="3" height="23" fill="#00ff00" />
<rect x="388" y="655" width="3" height="21" fill="#00ff00" />
<rect x="404" y="655" width="3" height="15" fill="#00ff00" />
<rect x="420" y="655" width="3" height="13" fill="#00ff00" />
<rect x="436" y="655" width="3" height="12" fill="#00ff00" />
<rect x="452" y="655" width="3" height="14" fill="#00ff00" />
<rect x="468" y="655" width="3" height="21" fill="#00ff00" />
<rect x="484" y="655" width="3" height="29" fill="#00ff00" />
<rect x="500" y="655" width="3" height="32" fill="#00ff00" />
<rect x="516" y="655" width="3" height="34" fill="#00ff00" />
<rect x="532" y="655" width="3" height="39" fill="#00ff00" />
<rect x="548" y="655" width="3" height="39" fill="#00ff00" />
<rect x="564" y="655" width="3" height="44" fill="#00ff00" />
<rect x="580" y="655" width="3" height="47" fill="#00ff00" />
<rect x="596" y="655" width="3" height="45" fill="#00ff00" />
<rect x="612" y="655" width="3" height="41" fill="#00ff00" />
<rect x="628" y="655" width="3" height="39" fill="#00ff00" />
<rect x="644" y="655" width="3" height="35" fill="#00ff00" />
<rect x="660" y="655" width="3" height="24" fill="#00ff00" />
<rect x="676" y="655" width="3" height="15" fill="#00ff00" />
<rect x="692" y="655" width="3" height="4" fill="#00ff00" />
<rect x="708" y="649" width="3" height="6" fill="#00ff00" />
<rect x="724" y="634" width="3" height="21" fill="#00ff00" />
<rect x="740" y="641" width="3" height="14" fill="#00ff00" />
<rect x="756" y="654" width="3" height="1" fill="#00ff00" />
<rect x="772" y="655" width="3" height="10" fill="#00ff00" />
<rect x="788" y="655" width="3" height="17" fill="#00ff00" />
<rect x="804" y="655" width="3" height="23" fill="#00ff00" />
<rect x="820" y="655" width="3" height="28" fill="#00ff00" />
<rect x="836" y="655" width="3" height="28" fill="#00ff00" />
<rect x="852" y="655" width="3" height="32" fill="#00ff00" />
<rect x="868" y="655" width="3" height="39" fill="#00ff00" />
<rect x="884" y="655" width="3" height="43" fill="#00ff00" />
<rect x="900" y="655" width="3" height="44" fill="#00ff00" />
<rect x="916" y="655" width="3" height="47" fill="#00ff00" />
<rect x="932" y="655" width="3" height="44" fill="#00ff00" />
<rect x="948" y="655" width="3" height="37" fill="#00ff00" />
<rect x="964" y="655" width="3" height="33" fill="#00ff00" />
<rect x="980" y="655" width="3" height="28" fill="#00ff00" />
<rect x="996" y="655" width="3" height="21" fill="#00ff00" />
<rect x="1012" y="655" width="3" height="14" fill="#00ff00" />
<rect x="1028" y="655" width="3" height="5" fill="#00ff00" />
<rect x="1044" y="648" width="3" height="7" fill="#00ff00" />
<rect x="1060" y="638" width="3" height="17" fill="#00ff00" />
<rect x="1076" y="629" width="3" height="26" fill="#00ff00" />
<rect x="1092" y="622" width="3" height="33" fill="#00ff00" />
<rect x="1108" y="613" width="3" height="42" fill="#00ff00" />
<rect x="1124" y="602" width="3" height="53" fill="#00ff00" />
<rect x="1140" y="596" width="3" height="59" fill="#00ff00" />
<rect x="1156" y="593" width="3" height="62" fill="#00ff00" />
<rect x="1172" y="595" width="3" height="60" fill="#00ff00" />
<rect x="1188" y="595" width="3" height="60" fill="#00ff00" />
<rect x="1204" y="597" width="3" height="58" fill="#00ff00" />
<rect x="1220" y="595" width="3" height="60" fill="#00ff00" />
<rect x="1236" y="599" width="3" height="56" fill="#00ff00" />
<rect x="1252" y="606" width="3" height="49" fill="#00ff00" />
<polyline fill="none" stroke="#ff0000" stroke-width="2" points="5,626.25 21.5,620 37,616.25 53,614 65,613.5 85,618 101,623 117,630 133,637 149,644 165,651.25 181,658.25 197,665.5 213,672 229,678.25 245,683 261,686.5 277,689.5 293,690.75 309,692.75 325,693 341,693 357,692.5 373,690.25 389,688 405,685.25 421.5,681.5 437.5,678.75 453.5,676 469.5,674 485.5,673.75 501.5,674.25 517.5,675 533.5,677.5 549.5,680 565.5,683 581.5,687 597.5,691.25 613.5,693.75 629.5,693.75 645.5,693.75 661.5,693.25 677.5,691.25 693.5,687.5 709.5,681.25 725.5,674 741.5,667 757.5,663.25 773.5,660.5 789.5,658.25 805.5,658 821.5,659.25 837.5,660.75 853.5,666.25 869.5,672.5 885.5,678.75 901.5,683.25 917.5,687.5 933.5,690.25 949.5,692.75 965.5,693 981.5,693 997.5,691.25 1013.5,689.25 1029.5,684.25 1045.5,680 1061.5,673.25 1077.5,665 1093.5,656.25 1109.5,648 1125.5,639.25 1141.5,630 1157.5,622.5 1173.5,615.5 1189.5,609.5 1205.5,605.75 1221,601.5 1237,598.4 1253,597.9"/>
</g>
<text transform="translate(9,599) scale(0.925,1)" font-size="10.1" fill="#000" stroke="#000" stroke-width="0.12" text-rendering="geometricPrecision" xml:space="preserve" >MACD(12,26,9) 0.002263 0.002665</text>
<g shape-rendering="crispEdges">
<rect x="1618" y="588" width="1" height="1" fill="#000" />
<rect x="1618" y="655" width="1" height="1" fill="#000" />
<rect x="1618" y="706" width="1" height="1" fill="#000" />
</g>
<text transform="translate(1621,597) scale(0.931,1)" font-size="10.1" fill="#000" stroke="#000" stroke-width="0.12" text-rendering="geometricPrecision" xml:space="preserve" >0.00314</text>
<text transform="translate(1621,659) scale(0.931,1)" font-size="10.1" fill="#000" stroke="#000" stroke-width="0.12" text-rendering="geometricPrecision" xml:space="preserve" >0.00</text>
<text transform="translate(1621,704) scale(0.931,1)" font-size="10.1" fill="#000" stroke="#000" stroke-width="0.12" text-rendering="geometricPrecision" xml:space="preserve" >-0.002376</text>
<g shape-rendering="crispEdges" clip-path="url(#cr)">
<line x1="6" y1="731.5" x2="1617" y2="731.5" stroke="#000" stroke-width="1" stroke-dasharray="3,3"/>
<line x1="6" y1="761.5" x2="1617" y2="761.5" stroke="#000" stroke-width="1" stroke-dasharray="3,3"/>
<line x1="6" y1="796.5" x2="1617" y2="796.5" stroke="#000" stroke-width="1" stroke-dasharray="3,3"/>
<polyline fill="none" stroke="#1e90ff" stroke-width="2" points="5,755 21.5,756.5 37,756.75 53,753.25 69,765 85,771.25 101,773.75 117,773 133,772.75 149,772.5 165,770.25 181,769 197,772 213,773.75 229,773.75 245,773.75 261,772.5 277,772 293,770 309,773.75 325,768.5 341,767.5 357,755.75 373,762.75 389,762.5 405.5,757.5 421.5,761.25 437.5,762 453.5,767.5 469.5,773.25 485.5,775.75 501.5,770.75 517.5,771.25 533.5,773.75 549.5,770.75 565.5,774.75 581.5,774.75 597.5,769.25 613.5,765 629.5,766.75 645.5,764.5 661.5,755 677.5,754.5 693.5,749.25 709.5,748.5 725.5,742.75 741.5,765.5 757.5,770 773.5,770 789.5,769.25 805.5,769.75 821.5,770 837.5,766.75 853.5,770.5 869.5,773.75 885.5,772.5 901.5,771.25 917.5,772 933.5,767 949.5,762 965.5,763 981.5,760 997.5,758.25 1013.5,756.25 1029.5,752 1045.5,749.25 1061.5,747.25 1077.5,746.75 1093.5,745.5 1109.5,742.5 1125.5,739.5 1141.5,742.5 1157.5,743 1173.5,749.75 1189.5,748.75 1205.5,749 1221,745 1237,756.8 1253,758"/>
</g>
<text transform="translate(9,722) scale(0.931,1)" font-size="10.1" fill="#000" stroke="#000" stroke-width="0.12" text-rendering="geometricPrecision" xml:space="preserve" >RSI(14) 53.2628</text>
<g shape-rendering="crispEdges">
<rect x="1618" y="711" width="1" height="1" fill="#000" />
<rect x="1618" y="811" width="1" height="1" fill="#000" />
</g>
<text transform="translate(1621,720) scale(0.931,1)" font-size="10.1" fill="#000" stroke="#000" stroke-width="0.12" text-rendering="geometricPrecision" xml:space="preserve" >100</text>
<text transform="translate(1621,735) scale(0.931,1)" font-size="10.1" fill="#000" stroke="#000" stroke-width="0.12" text-rendering="geometricPrecision" xml:space="preserve" >80</text>
<text transform="translate(1621,765) scale(0.931,1)" font-size="10.1" fill="#000" stroke="#000" stroke-width="0.12" text-rendering="geometricPrecision" xml:space="preserve" >50</text>
<text transform="translate(1621,800) scale(0.931,1)" font-size="10.1" fill="#000" stroke="#000" stroke-width="0.12" text-rendering="geometricPrecision" xml:space="preserve" >15</text>
<text transform="translate(1621,809) scale(0.931,1)" font-size="10.1" fill="#000" stroke="#000" stroke-width="0.12" text-rendering="geometricPrecision" xml:space="preserve" >0</text>
<g shape-rendering="crispEdges">
<rect x="5" y="813" width="1" height="3" fill="#000" />
<rect x="69" y="813" width="1" height="3" fill="#000" />
<rect x="133" y="813" width="1" height="3" fill="#000" />
<rect x="197" y="813" width="1" height="3" fill="#000" />
<rect x="261" y="813" width="1" height="3" fill="#000" />
<rect x="325" y="813" width="1" height="3" fill="#000" />
<rect x="389" y="813" width="1" height="3" fill="#000" />
<rect x="453" y="813" width="1" height="3" fill="#000" />
<rect x="517" y="813" width="1" height="3" fill="#000" />
<rect x="581" y="813" width="1" height="3" fill="#000" />
<rect x="645" y="813" width="1" height="3" fill="#000" />
<rect x="709" y="813" width="1" height="3" fill="#000" />
<rect x="773" y="813" width="1" height="3" fill="#000" />
<rect x="837" y="813" width="1" height="3" fill="#000" />
<rect x="901" y="813" width="1" height="3" fill="#000" />
<rect x="965" y="813" width="1" height="3" fill="#000" />
<rect x="1029" y="813" width="1" height="3" fill="#000" />
<rect x="1093" y="813" width="1" height="3" fill="#000" />
<rect x="1157" y="813" width="1" height="3" fill="#000" />
<rect x="1221" y="813" width="1" height="3" fill="#000" />
</g>
<text transform="translate(3.9,825) scale(0.909,1)" font-size="10.1" fill="#000" stroke="#000" stroke-width="0.12" text-rendering="geometricPrecision" xml:space="preserve" >19 Jan 2023</text>
<text transform="translate(67.9,825) scale(0.909,1)" font-size="10.1" fill="#000" stroke="#000" stroke-width="0.12" text-rendering="geometricPrecision" xml:space="preserve" >20 Jan 12:00</text>
<text transform="translate(131.9,825) scale(0.909,1)" font-size="10.1" fill="#000" stroke="#000" stroke-width="0.12" text-rendering="geometricPrecision" xml:space="preserve" >23 Jan 04:00</text>
<text transform="translate(195.9,825) scale(0.909,1)" font-size="10.1" fill="#000" stroke="#000" stroke-width="0.12" text-rendering="geometricPrecision" xml:space="preserve" >23 Jan 20:00</text>
<text transform="translate(259.9,825) scale(0.909,1)" font-size="10.1" fill="#000" stroke="#000" stroke-width="0.12" text-rendering="geometricPrecision" xml:space="preserve" >24 Jan 12:00</text>
<text transform="translate(323.9,825) scale(0.909,1)" font-size="10.1" fill="#000" stroke="#000" stroke-width="0.12" text-rendering="geometricPrecision" xml:space="preserve" >25 Jan 04:00</text>
<text transform="translate(387.9,825) scale(0.909,1)" font-size="10.1" fill="#000" stroke="#000" stroke-width="0.12" text-rendering="geometricPrecision" xml:space="preserve" >25 Jan 20:00</text>
<text transform="translate(451.9,825) scale(0.909,1)" font-size="10.1" fill="#000" stroke="#000" stroke-width="0.12" text-rendering="geometricPrecision" xml:space="preserve" >26 Jan 12:00</text>
<text transform="translate(515.9,825) scale(0.909,1)" font-size="10.1" fill="#000" stroke="#000" stroke-width="0.12" text-rendering="geometricPrecision" xml:space="preserve" >27 Jan 04:00</text>
<text transform="translate(579.9,825) scale(0.909,1)" font-size="10.1" fill="#000" stroke="#000" stroke-width="0.12" text-rendering="geometricPrecision" xml:space="preserve" >29 Jan 23:00</text>
<text transform="translate(643.9,825) scale(0.909,1)" font-size="10.1" fill="#000" stroke="#000" stroke-width="0.12" text-rendering="geometricPrecision" xml:space="preserve" >30 Jan 12:00</text>
<text transform="translate(707.9,825) scale(0.909,1)" font-size="10.1" fill="#000" stroke="#000" stroke-width="0.12" text-rendering="geometricPrecision" xml:space="preserve" >31 Jan 04:00</text>
<text transform="translate(771.9,825) scale(0.909,1)" font-size="10.1" fill="#000" stroke="#000" stroke-width="0.12" text-rendering="geometricPrecision" xml:space="preserve" >31 Jan 20:00</text>
<text transform="translate(835.9,825) scale(0.909,1)" font-size="10.1" fill="#000" stroke="#000" stroke-width="0.12" text-rendering="geometricPrecision" xml:space="preserve" >1 Feb 12:00</text>
<text transform="translate(899.9,825) scale(0.909,1)" font-size="10.1" fill="#000" stroke="#000" stroke-width="0.12" text-rendering="geometricPrecision" xml:space="preserve" >2 Feb 04:00</text>
<text transform="translate(963.9,825) scale(0.909,1)" font-size="10.1" fill="#000" stroke="#000" stroke-width="0.12" text-rendering="geometricPrecision" xml:space="preserve" >2 Feb 20:00</text>
<text transform="translate(1027.9,825) scale(0.909,1)" font-size="10.1" fill="#000" stroke="#000" stroke-width="0.12" text-rendering="geometricPrecision" xml:space="preserve" >3 Feb 12:00</text>
<text transform="translate(1091.9,825) scale(0.909,1)" font-size="10.1" fill="#000" stroke="#000" stroke-width="0.12" text-rendering="geometricPrecision" xml:space="preserve" >6 Feb 04:00</text>
<text transform="translate(1155.9,825) scale(0.909,1)" font-size="10.1" fill="#000" stroke="#000" stroke-width="0.12" text-rendering="geometricPrecision" xml:space="preserve" >6 Feb 20:00</text>
<text transform="translate(1219.9,825) scale(0.909,1)" font-size="10.1" fill="#000" stroke="#000" stroke-width="0.12" text-rendering="geometricPrecision" xml:space="preserve" >7 Feb 12:00</text>
<g shape-rendering="crispEdges">
<rect x="1289" y="28" width="9" height="1" fill="#000" />
<rect x="1290" y="29" width="7" height="1" fill="#000" />
<rect x="1291" y="30" width="5" height="1" fill="#000" />
<rect x="1292" y="31" width="3" height="1" fill="#000" />
<rect x="1293" y="32" width="1" height="1" fill="#000" />
</g>
</svg></body></html>
